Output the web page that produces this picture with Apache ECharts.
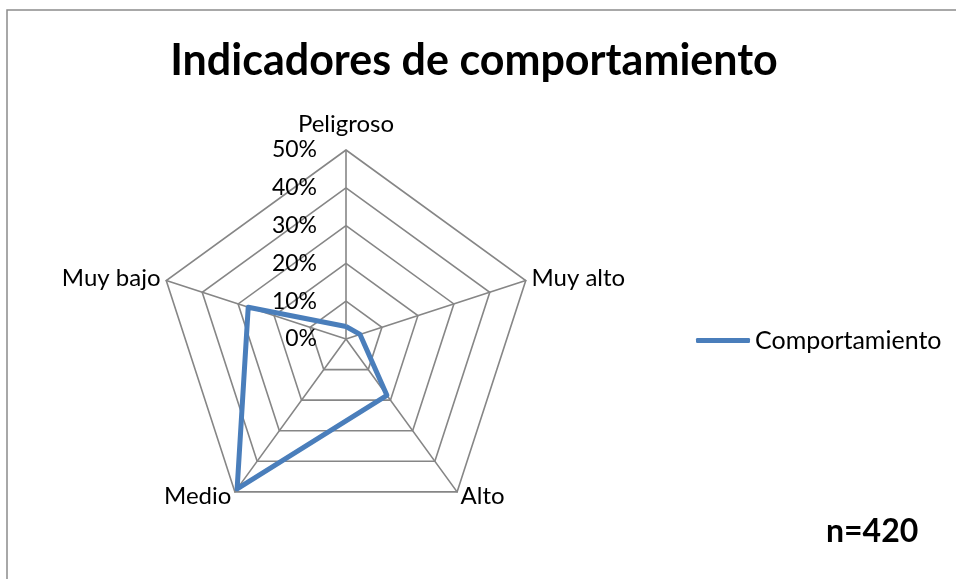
<!DOCTYPE html>
<html>
<head>
<meta charset="utf-8">
<script src="https://cdn.jsdelivr.net/npm/echarts@6/dist/echarts.min.js"></script>
<style>
  html, body { margin: 0; padding: 0; background: #fff; }
  #chart { width: 956px; height: 579px; }
</style>
</head>
<body>
<div id="chart"></div>
<script>
// indicators in the order ECharts lays them out (counter-clockwise from top)
const indicators = ['Peligroso', 'Muy bajo', 'Medio', 'Alto', 'Muy alto'];
const values = [3.3, 27.2, 49, 18.4, 3.9];
const tickValues = [0, 10, 20, 30, 40, 50];
const seriesName = 'Comportamiento';

const font = 'Lato';
const gridColor = '#868686';

const chart = echarts.init(document.getElementById('chart'));

const option = {
  backgroundColor: '#fff',
  animation: false,
  title: [
    {
      text: 'Indicadores de comportamiento',
      left: 469,
      top: 35,
      textAlign: 'center',
      textStyle: { fontFamily: font, fontSize: 43, fontWeight: 'bold', color: '#000' }
    },
    {
      text: 'n=420',
      left: 821,
      top: 511,
      textStyle: { fontFamily: font, fontSize: 32, fontWeight: 'bold', color: '#000' }
    }
  ],
  graphic: [
    {
      type: 'rect',
      shape: { x: 7, y: 10, width: 960, height: 600 },
      style: { fill: 'none', stroke: '#8c8c8c', lineWidth: 1.5 },
      silent: true
    }
  ],
  legend: {
    data: [seriesName],
    left: 691,
    top: 323,
    icon: 'roundRect',
    itemWidth: 54,
    itemHeight: 5,
    textStyle: { fontFamily: font, fontSize: 25, color: '#000' }
  },
  radar: {
    center: [346, 339],
    radius: 189,
    startAngle: 90,
    shape: 'polygon',
    splitNumber: 5,
    indicator: indicators.map(name => ({ name: name, min: 0, max: 50 })),
    axisName: {
      fontFamily: font,
      fontSize: 24,
      color: '#000',
      formatter: name => name === 'Peligroso' ? '{top|' + name + '}' : name,
      rich: { top: { fontFamily: font, fontSize: 24, color: '#000', padding: [0, 0, 8, 0] } }
    },
    nameGap: 6,
    splitArea: { show: false },
    splitLine: { lineStyle: { color: gridColor, width: 1.6 } },
    axisLine: { lineStyle: { color: gridColor, width: 1.6 } },
    axisTick: { show: false },
    axisLabel: { show: false }
  },
  // value axis laid along the Peligroso spoke, used only for its tick labels
  grid: { left: 346, top: 150, width: 10, height: 189 },
  xAxis: { type: 'value', show: false },
  yAxis: {
    type: 'value',
    min: 0,
    max: 50,
    interval: 10,
    data: tickValues,
    axisLine: { show: false },
    axisTick: { show: false },
    splitLine: { show: false },
    axisLabel: { margin: 29, formatter: '{value}%', fontFamily: font, fontSize: 23, color: '#000' }
  },
  series: [
    {
      name: seriesName,
      type: 'radar',
      symbol: 'none',
      lineStyle: { color: '#4a7ebb', width: 5 },
      itemStyle: { color: '#4a7ebb' },
      data: [{ value: values, name: seriesName }]
    }
  ]
};

chart.setOption(option);
</script>
</body>
</html>
